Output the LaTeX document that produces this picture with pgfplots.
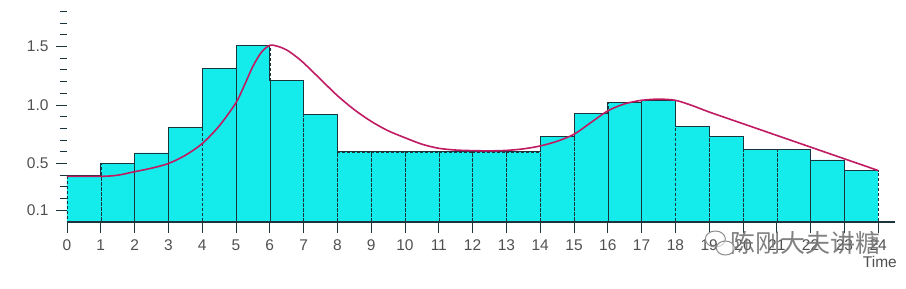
\documentclass[border=0pt]{standalone}
\usepackage{fontspec}
\setmainfont{Liberation Sans}
\newfontfamily\cjk{Noto Sans CJK SC}
\usepackage{pgfplots}
\usepackage{pgfplotstable}
\pgfplotsset{compat=1.18}
\definecolor{barcyan}{RGB}{20,236,236}
\definecolor{curvecol}{RGB}{192,26,98}
\definecolor{edge}{RGB}{28,52,60}
\definecolor{lbl}{RGB}{80,80,80}
\pgfplotstableread{
x y
0 0.40
1 0.50
2 0.59
3 0.81
4 1.31
5 1.51
6 1.21
7 0.92
8 0.60
9 0.60
10 0.60
11 0.60
12 0.60
13 0.60
14 0.73
15 0.93
16 1.02
17 1.04
18 0.82
19 0.73
20 0.62
21 0.62
22 0.53
23 0.44
24 0.44
}\bars
\begin{document}
\begin{tikzpicture}
\useasboundingbox (-67pt,-67pt) rectangle (839pt,222pt);
\begin{axis}[
 at={(0,0)}, anchor=south west,
 scale only axis,
 x=33.8pt, y=117pt,
 xmin=0, xmax=24.5, ymin=0, ymax=1.9,
 separate axis lines,
 axis x line*=bottom, axis y line*=left,
 x axis line style={-, draw=edge, line width=1.1pt},
 y axis line style={draw=none},
 axis on top,
 tick align=outside,
 xtick={0,...,24},
 ytick={0.1,0.5,1.0,1.5},
 yticklabels={0.1,0.5,1.0,1.5},
 minor ytick={0.2,0.3,0.4,0.6,0.7,0.8,0.9,1.1,1.2,1.3,1.4,1.6,1.7,1.8,1.9},
 major tick length=11pt, minor tick length=7pt,
 tick style={draw=edge, line width=0.8pt},
 ticklabel style={font=\fontsize{15.5}{16}\selectfont, text=lbl},
 xticklabel style={yshift=-3pt},
 yticklabel style={xshift=-4pt},
 /pgf/number format/assume math mode=true,
 clip=false,
]
\addplot[ybar interval, fill=barcyan, draw=edge, densely dashed, line width=0.5pt] table {\bars};
\addplot[const plot, draw=edge, line width=0.9pt] table {\bars};
\addplot[smooth, tension=0.5, draw=curvecol, line width=1.6pt] coordinates {
(0,0.39)(1,0.39)(1.5,0.40)(2,0.43)(2.5,0.46)(3,0.50)(3.5,0.57)(4,0.67)(4.5,0.82)
(5,1.02)(5.25,1.17)(5.5,1.33)(5.75,1.45)(6,1.51)(6.25,1.50)(6.5,1.47)(6.75,1.42)
(7,1.36)(7.5,1.22)(8,1.08)(8.5,0.96)(9,0.86)(9.5,0.78)(10,0.72)(10.5,0.665)
(11,0.63)(11.5,0.615)(12,0.61)(12.5,0.608)(13,0.612)(13.5,0.625)(14,0.65)(14.5,0.69)
(15,0.75)(15.5,0.85)(16,0.95)(16.5,1.01)(17,1.04)(17.5,1.05)(18,1.04)(18.5,0.995)
(19,0.94)(20,0.84)(21,0.74)(22,0.64)(23,0.54)(24,0.44)};
\coordinate (wm) at (axis cs:21.85,0);
\coordinate (ic) at (axis cs:19.3,0);
\coordinate (tm) at (axis cs:24.05,0);
\end{axis}
\node[text=lbl, font=\fontsize{15.5}{16}\selectfont] at ([yshift=-40pt]tm) {Time};
\node[text=black!55, opacity=0.9, font=\cjk\fontsize{25}{27}\selectfont] at ([yshift=-21pt]wm) {陈刚大夫讲糖};
\draw[black!45, line width=1pt] ([xshift=-4pt,yshift=-17pt]ic) ellipse (10pt and 8pt);
\draw[black!45, line width=1pt, fill=white, fill opacity=0.6] ([xshift=6pt,yshift=-26pt]ic) ellipse (9pt and 7pt);
\end{tikzpicture}
\end{document}
